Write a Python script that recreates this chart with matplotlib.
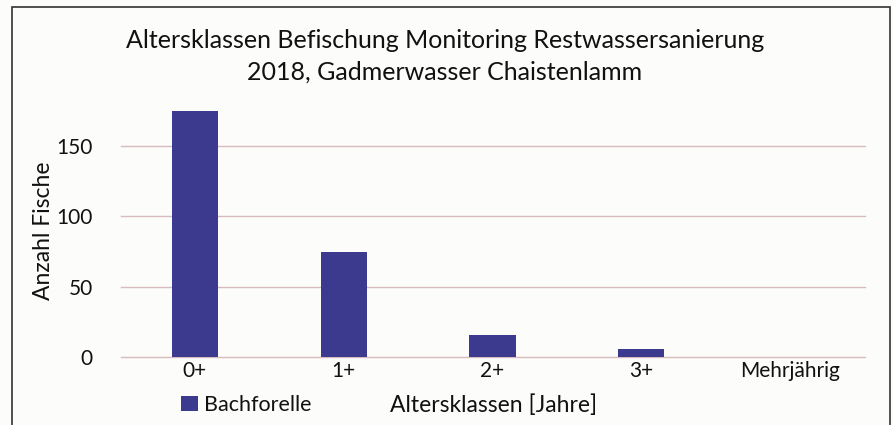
import matplotlib.pyplot as plt
from matplotlib.patches import Rectangle

plt.rcParams['font.family'] = ['Lato', 'DejaVu Sans']

# data
categories = ['0+', '1+', '2+', '3+', 'Mehrjährig']
bachforelle = [175, 75, 16, 6, 0]
yticks = [0, 50, 100, 150]

bar_color = '#3b3a8f'
grid_color = '#d6bcbc'
txt = '#111111'

fig = plt.figure(figsize=(8.93, 4.25), dpi=100)
fig.patch.set_facecolor('#fcfcfb')

# scanned chart frame
fig.add_artist(Rectangle((12 / 893, -0.05), (890 - 12) / 893, 1.05 - 7 / 425,
                         transform=fig.transFigure, fill=False,
                         edgecolor='#333333', linewidth=1.2))

ax = fig.add_axes([120.5 / 893, 1 - 357 / 425, 744 / 893, (357 - 104) / 425])
ax.set_facecolor('none')

x = range(len(categories))
ax.bar(x, bachforelle, width=0.31, color=bar_color, label='Bachforelle', zorder=3)

ax.set_xlim(-0.5, len(categories) - 0.5)
ax.set_ylim(0, 180)
ax.set_yticks(yticks)
ax.set_xticks(list(x))
ax.set_xticklabels(categories)
for v in yticks:
    ax.axhline(v, color=grid_color, linewidth=1, zorder=1, clip_on=False)
ax.tick_params(length=0, labelsize=15, colors=txt)
ax.tick_params(axis='y', pad=20)
ax.tick_params(axis='x', pad=3)
for s in ax.spines.values():
    s.set_visible(False)

ax.set_ylabel('Anzahl Fische', fontsize=16.5, color=txt, labelpad=2)

fig.text(445 / 893, 1 - 40 / 425, 'Altersklassen Befischung Monitoring Restwassersanierung',
         ha='center', va='center', fontsize=18, color=txt)
fig.text(445 / 893, 1 - 72 / 425, '2018, Gadmerwasser Chaistenlamm',
         ha='center', va='center', fontsize=18, color=txt)
fig.text(494 / 893, 1 - 405 / 425, 'Altersklassen [Jahre]',
         ha='center', va='center', fontsize=16.5, color=txt)

fig.legend(loc='center left', bbox_to_anchor=(162 / 893, 1 - 405 / 425), frameon=False,
           fontsize=15.5, handlelength=0.75, handleheight=0.75, handletextpad=0.3,
           labelcolor=txt)

fig.savefig('out.png', dpi=100, facecolor=fig.get_facecolor())
